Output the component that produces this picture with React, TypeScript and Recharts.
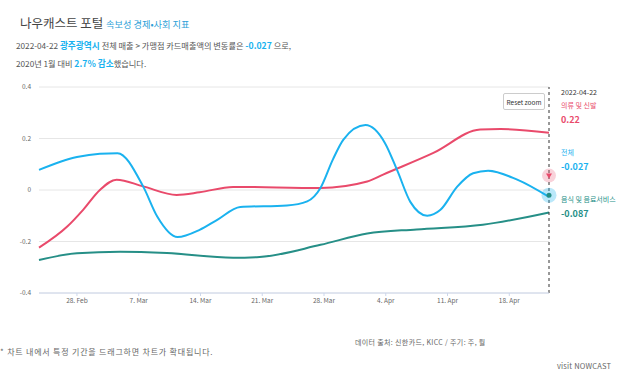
import { LineChart, Line, XAxis, YAxis, CartesianGrid, ReferenceLine, ReferenceDot } from "recharts";

// days counted from 24 Feb 2022 (28 Feb = 4)
const tickDays = [4, 11, 18, 25, 32, 39, 46, 53];
const tickLabels = ["28. Feb", "7. Mar", "14. Mar", "21. Mar", "28. Mar", "4. Apr", "11. Apr", "18. Apr"];
const yTicks = [-0.4, -0.2, 0, 0.2, 0.4];

const totalDays = [-0.3, 4, 6.6, 8.6, 11.5, 13.1, 15.4, 17.9, 19.9, 22.5, 27.8, 30.1, 31.6, 33.0, 34.2, 36.7, 38.9, 40.3, 41.8, 43.7, 45.2, 47.1, 48.9, 50.6, 53.9, 57.5];
const totalValues = [0.078, 0.128, 0.141, 0.143, 0.014, -0.103, -0.183, -0.155, -0.116, -0.066, -0.06, -0.044, 0.008, 0.118, 0.196, 0.252, 0.183, 0.076, -0.047, -0.1, -0.077, 0.013, 0.065, 0.075, 0.04, -0.027];

const clothDays = [-0.3, 2.9, 4.7, 6.6, 8.5, 11.5, 15.3, 17.9, 21.7, 31.6, 36.9, 38.7, 44.4, 49.7, 52.0, 57.5];
const clothValues = [-0.224, -0.142, -0.077, 0.0, 0.04, 0.014, -0.019, -0.009, 0.012, 0.008, 0.033, 0.06, 0.144, 0.235, 0.237, 0.222];

const foodDays = [-0.3, 4, 8.9, 14.2, 21.7, 24.7, 31.6, 36.9, 42.5, 50.0, 57.5];
const foodValues = [-0.272, -0.246, -0.24, -0.245, -0.263, -0.26, -0.213, -0.169, -0.153, -0.135, -0.087];

const lastDay = 57.5;
const hoverRed = 0.056;
const hoverBlue = -0.02;

const toRows = (days, vals) => days.map((d, i) => ({ day: d, v: vals[i] }));

const font = "'Noto Sans CJK KR', 'Noto Sans', sans-serif";
const BLUE = "#1ab2ef";
const RED = "#e94a6b";
const TEAL = "#268f87";

const Tri = (props) => {
  const { cx, cy } = props;
  return (
    <g>
      <circle cx={cx} cy={cy} r={7} fill="rgba(233,74,107,0.25)" />
      <path d={`M${cx - 3},${cy - 2} L${cx + 3},${cy - 2} L${cx},${cy + 3} Z`} fill={RED} />
    </g>
  );
};

const Dot = (props) => {
  const { cx, cy } = props;
  return (
    <g>
      <circle cx={cx} cy={cy} r={7.5} fill="rgba(26,178,239,0.3)" />
      <circle cx={cx} cy={cy} r={2.5} fill={TEAL} />
    </g>
  );
};

const txt = (x, y, size, color, content, weight = 400, spacing = 0) => (
  <div style={{ position: "absolute", left: x, top: y, fontSize: size, color, fontWeight: weight, whiteSpace: "nowrap", lineHeight: 1, letterSpacing: spacing }}>
    {content}
  </div>
);

const App = () => {
  return (
    <div style={{ position: "absolute", left: 0, top: 0, width: 620, height: 380, background: "#fff", fontFamily: font, overflow: "hidden" }}>
      <div style={{ position: "absolute", left: 20, top: 13, whiteSpace: "nowrap", lineHeight: 1 }}>
        <span style={{ fontSize: 12.5, color: "#444" }}>나우캐스트 포털 </span>
        <span style={{ fontSize: 9.2, color: "#2d9fd8" }}>속보성 경제•사회 지표</span>
      </div>
      <div style={{ position: "absolute", left: 16, top: 41, fontSize: 8.2, color: "#555", whiteSpace: "nowrap", lineHeight: 1 }}>
        2022-04-22 <b style={{ color: BLUE, fontSize: 8.7 }}>광주광역시</b> 전체 매출 &gt; 가맹점 카드매출액의 변동률은{" "}
        <b style={{ color: BLUE, fontSize: 8.7 }}>-0.027</b> 으로,
      </div>
      <div style={{ position: "absolute", left: 16, top: 59, fontSize: 8.2, color: "#555", whiteSpace: "nowrap", lineHeight: 1 }}>
        2020년 1월 대비 <b style={{ color: BLUE, fontSize: 8.7 }}>2.7% 감소</b>했습니다.
      </div>

      <div style={{ position: "absolute", left: 0, top: 0 }}>
        <LineChart width={620} height={380} margin={{ top: 87, left: 9, right: 71, bottom: 67 }}>
          <CartesianGrid vertical={false} stroke="#e6e6e6" />
          <XAxis
            dataKey="day"
            type="number"
            domain={[-0.3, lastDay]}
            ticks={tickDays}
            tickFormatter={(d) => tickLabels[tickDays.indexOf(d)]}
            allowDuplicatedCategory={false}
            height={20}
            stroke="#ccd6eb"
            tickSize={3}
            tickMargin={2}
            tick={{ fontSize: 6.5, fill: "#666", fontFamily: font }}
          />
          <YAxis
            type="number"
            domain={[-0.4, 0.4]}
            ticks={yTicks}
            tickFormatter={(v) => (v === 0 ? "0" : v.toFixed(1))}
            width={30}
            axisLine={false}
            tickLine={false}
            tickSize={6}
            tickMargin={2}
            tick={{ fontSize: 6.5, fill: "#666", fontFamily: font }}
          />
          <Line data={toRows(foodDays, foodValues)} dataKey="v" type="monotone" stroke={TEAL} strokeWidth={2} dot={false} isAnimationActive={false} />
          <Line data={toRows(clothDays, clothValues)} dataKey="v" type="monotone" stroke={RED} strokeWidth={2} dot={false} isAnimationActive={false} />
          <Line data={toRows(totalDays, totalValues)} dataKey="v" type="monotone" stroke={BLUE} strokeWidth={2} dot={false} isAnimationActive={false} />
          <ReferenceLine x={lastDay} stroke="#333" strokeDasharray="3 3" />
          <ReferenceDot x={lastDay} y={hoverRed} shape={Tri} />
          <ReferenceDot x={lastDay} y={hoverBlue} shape={Dot} />
        </LineChart>
      </div>

      <div style={{ position: "absolute", left: 503, top: 93, width: 42, height: 17, border: "1px solid #ccc", borderRadius: 2, background: "#fff", boxSizing: "border-box", fontSize: 6.5, color: "#333", display: "flex", alignItems: "center", justifyContent: "center" }}>
        Reset zoom
      </div>

      {txt(561, 89, 7, "#333", "2022-04-22")}
      {txt(561, 102, 7, RED, "의류 및 신발")}
      {txt(561, 115, 9, RED, "0.22", 700)}
      {txt(561, 149, 7, BLUE, "전체")}
      {txt(561, 162, 9, BLUE, "-0.027", 700)}
      {txt(561, 196, 7, TEAL, "음식 및 음료서비스")}
      {txt(561, 209, 9, TEAL, "-0.087", 700)}

      {txt(355, 339, 7, "#666", "데이터 출처: 신한카드, KICC / 주기: 주, 월", 400, 0.35)}
      {txt(0, 348, 8, "#666", "* 차트 내에서 특정 기간을 드래그하면 차트가 확대됩니다.", 400, 0.8)}
      {txt(557, 362, 7.5, "#666", "visit NOWCAST", 400, 0.2)}
    </div>
  );
};

export default App;
